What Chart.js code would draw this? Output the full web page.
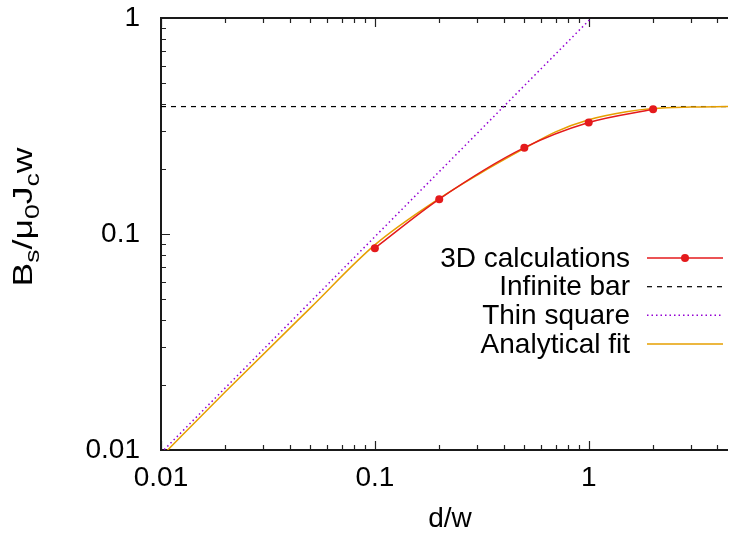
<!DOCTYPE html>
<html>
<head>
<meta charset="utf-8">
<script src="https://cdn.jsdelivr.net/npm/chart.js@4.4.0/dist/chart.umd.min.js"></script>
<style>
  html, body { margin: 0; padding: 0; background: #fff; }
  #wrap { width: 732px; height: 534px; }
</style>
</head>
<body>
<div id="wrap"><canvas id="plot"></canvas></div>
<script>
// 3D calculations
var calcX = [0.1, 0.2, 0.5, 1, 2];
var calcY = [0.086, 0.145, 0.251, 0.328, 0.378];

// infinite bar limit
var barX = [0.01, 4.48];
var barY = [0.389, 0.389];

// thin square line
var squareX = [0.01, 1.1];
var squareY = [0.0097, 1.07];

// analytical fit
var fitX = [0.01, 0.02, 0.05, 0.1, 0.2, 0.3, 0.5, 0.7, 1, 1.5, 2, 3, 4.48];
var fitY = [0.0093, 0.0186, 0.0455, 0.089, 0.146, 0.187, 0.249, 0.297, 0.338, 0.368, 0.381, 0.387, 0.389];

var xMajor = [0.01, 0.1, 1];
var xTickLabels = ['0.01', '0.1', '1'];
var yMajor = [0.01, 0.1, 1];
var yTickLabels = ['0.01', '0.1', '1'];

var xMin = 0.01, xMax = 4.48;
var yMin = 0.01, yMax = 1;

var legendNames = ['3D calculations', 'Infinite bar', 'Thin square', 'Analytical fit'];

var font = 'Liberation Sans, Arial, sans-serif';

function pts(xs, ys) {
    return xs.map(function (x, i) { return { x: x, y: ys[i] }; });
}

function allTicks(majors, max) {
    var out = [];
    majors.forEach(function (d) {
        for (var m = 1; m <= 9; m++) {
            var v = +(m * d).toPrecision(6);
            if (v <= max * 1.0001) out.push(v);
        }
    });
    return out;
}

function labelFor(v, majors, labels) {
    for (var i = 0; i < majors.length; i++) {
        if (Math.abs(v - majors[i]) < majors[i] * 1e-6) return labels[i];
    }
    return '';
}

var red = '#e41a1c';
var purple = '#9400d3';
var orange = '#e69f00';

var datasets = [
    {
        label: legendNames[0],
        data: pts(calcX, calcY),
        borderColor: red,
        backgroundColor: red,
        borderWidth: 1.5,
        pointRadius: 4,
        pointBorderWidth: 0,
        cubicInterpolationMode: 'monotone',
        order: 0
    },
    {
        label: legendNames[1],
        data: pts(barX, barY),
        borderColor: '#000',
        borderWidth: 1.2,
        borderDash: [5, 5],
        pointRadius: 0,
        order: 3
    },
    {
        label: legendNames[2],
        data: pts(squareX, squareY),
        borderColor: purple,
        borderWidth: 1.5,
        borderDash: [1.5, 3],
        pointRadius: 0,
        order: 2
    },
    {
        label: legendNames[3],
        data: pts(fitX, fitY),
        borderColor: orange,
        borderWidth: 1.5,
        pointRadius: 0,
        cubicInterpolationMode: 'monotone',
        order: 1
    }
];

var framePlugin = {
    id: 'frame',
    beforeDatasetsDraw: function (chart) {
        var ctx = chart.ctx, a = chart.chartArea;
        var xs = chart.scales.x, ys = chart.scales.y;
        ctx.save();
        ctx.strokeStyle = '#222';
        ctx.lineWidth = 1.2;
        ctx.beginPath();
        xs.ticks.forEach(function (t) {
            var px = Math.round(xs.getPixelForValue(t.value)) + 0.5;
            var len = labelFor(t.value, xMajor, xTickLabels) ? 9 : 5;
            ctx.moveTo(px, a.bottom); ctx.lineTo(px, a.bottom - len);
            ctx.moveTo(px, a.top); ctx.lineTo(px, a.top + len);
        });
        ys.ticks.forEach(function (t) {
            var py = Math.round(ys.getPixelForValue(t.value)) + 0.5;
            var len = labelFor(t.value, yMajor, yTickLabels) ? 9 : 5;
            ctx.moveTo(a.left, py); ctx.lineTo(a.left + len, py);
        });
        ctx.stroke();
        ctx.lineWidth = 2;
        ctx.strokeStyle = '#1a1a1a';
        ctx.beginPath();
        ctx.moveTo(a.right, a.top); ctx.lineTo(a.left, a.top);
        ctx.lineTo(a.left, a.bottom); ctx.lineTo(a.right, a.bottom);
        ctx.stroke();
        ctx.restore();
    },
    afterDraw: function (chart) {
        var ctx = chart.ctx;
        ctx.save();
        ctx.fillStyle = '#000';

        // legend
        ctx.font = '28px ' + font;
        ctx.textAlign = 'right';
        ctx.textBaseline = 'middle';
        var rows = [258, 286.7, 315.3, 344];
        chart.data.datasets.forEach(function (ds, i) {
            var y = rows[i];
            ctx.fillStyle = '#000';
            ctx.fillText(ds.label, 630, y + 1);
            ctx.strokeStyle = ds.borderColor;
            ctx.lineWidth = ds.borderWidth;
            ctx.setLineDash(ds.borderDash || []);
            ctx.beginPath();
            ctx.moveTo(647, y); ctx.lineTo(723, y);
            ctx.stroke();
            ctx.setLineDash([]);
            if (ds.pointRadius) {
                ctx.fillStyle = ds.backgroundColor;
                ctx.beginPath();
                ctx.arc(685, y, ds.pointRadius, 0, Math.PI * 2);
                ctx.fill();
            }
        });

        // x title
        ctx.fillStyle = '#000';
        ctx.textAlign = 'center';
        ctx.textBaseline = 'alphabetic';
        ctx.font = '28px ' + font;
        ctx.fillText('d/w', 450, 527);

        // y title with subscripts
        var parts = [['B', 0], ['s', 1], ['/\u03bc', 0], ['0', 1], ['J', 0], ['c', 1], ['w', 0]];
        var big = '28px ' + font, small = '21px ' + font;
        var total = 0;
        parts.forEach(function (p) {
            ctx.font = p[1] ? small : big;
            total += ctx.measureText(p[0]).width;
        });
        ctx.translate(32, 217);
        ctx.rotate(-Math.PI / 2);
        ctx.scale(139 / total, 1);
        ctx.textAlign = 'left';
        var cx = -total / 2;
        parts.forEach(function (p) {
            ctx.font = p[1] ? small : big;
            ctx.fillText(p[0], cx, p[1] ? 7 : 0);
            cx += ctx.measureText(p[0]).width;
        });
        ctx.restore();
    }
};

new Chart(document.getElementById('plot').getContext('2d'), {
    type: 'line',
    data: { datasets: datasets },
    options: {
        responsive: true,
        maintainAspectRatio: false,
        animation: false,
        layout: { padding: { top: 18, right: 0, left: 0, bottom: 0 } },
        plugins: {
            legend: { display: false },
            tooltip: { enabled: false }
        },
        scales: {
            x: {
                type: 'logarithmic',
                min: xMin,
                max: xMax,
                afterBuildTicks: function (s) {
                    s.ticks = allTicks(xMajor, xMax).map(function (v) { return { value: v }; });
                },
                afterFit: function (s) {
                    s.height = 84;
                    s.paddingLeft = 0; s.paddingRight = 0;
                },
                grid: { display: false, drawTicks: false },
                border: { display: false },
                ticks: {
                    autoSkip: false,
                    maxRotation: 0,
                    padding: 11,
                    color: '#000',
                    font: { family: font, size: 28 },
                    callback: function (v) { return labelFor(v, xMajor, xTickLabels); }
                }
            },
            y: {
                type: 'logarithmic',
                min: yMin,
                max: yMax,
                afterBuildTicks: function (s) {
                    s.ticks = allTicks(yMajor, yMax).map(function (v) { return { value: v }; });
                },
                afterFit: function (s) {
                    s.width = 161;
                    s.paddingTop = 0; s.paddingBottom = 0;
                },
                grid: { display: false, drawTicks: false },
                border: { display: false },
                ticks: {
                    autoSkip: false,
                    padding: 21,
                    color: '#000',
                    font: { family: font, size: 28 },
                    callback: function (v) { return labelFor(v, yMajor, yTickLabels); }
                }
            }
        }
    },
    plugins: [framePlugin]
});
</script>
</body>
</html>
